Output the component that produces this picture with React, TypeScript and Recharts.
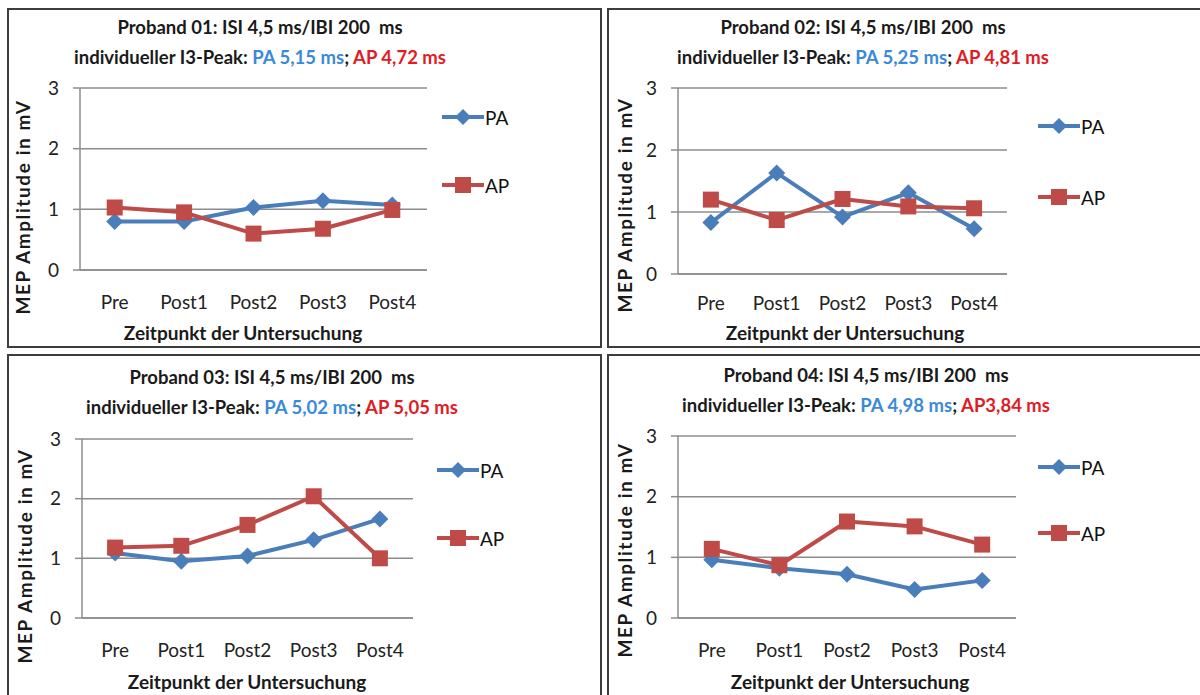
import React from 'react';
import { LineChart, Line, XAxis, YAxis, CartesianGrid, Legend } from 'recharts';

const categories = ['Pre', 'Post1', 'Post2', 'Post3', 'Post4'];
const yTicks = [0, 1, 2, 3];

const pa01 = [0.8, 0.8, 1.03, 1.14, 1.07];
const ap01 = [1.03, 0.95, 0.6, 0.68, 0.99];
const pa02 = [0.83, 1.63, 0.92, 1.31, 0.73];
const ap02 = [1.2, 0.87, 1.21, 1.09, 1.06];
const pa03 = [1.09, 0.95, 1.04, 1.31, 1.66];
const ap03 = [1.18, 1.21, 1.56, 2.04, 1.0];
const pa04 = [0.96, 0.82, 0.72, 0.47, 0.62];
const ap04 = [1.14, 0.87, 1.59, 1.51, 1.21];

const probanden = ['01', '02', '03', '04'];
const paPeaks = ['PA 5,15 ms', 'PA 5,25 ms', 'PA 5,02 ms', 'PA 4,98 ms'];
const apPeaks = ['AP 4,72 ms', 'AP 4,81 ms', 'AP 5,05 ms', 'AP3,84 ms'];
const paSeries = [pa01, pa02, pa03, pa04];
const apSeries = [ap01, ap02, ap03, ap04];

const FONT = 'Lato, "Open Sans", sans-serif';
const BLUE = '#4A7EBB';
const RED = '#BE4B48';
const GRID = '#8c8c8c';

// panel boxes and plot rectangles in page coordinates
const layouts = [
  { x: 7, y: 8, w: 595, h: 340, plot: [80, 427, 88, 270], titleX: 260, t1: 27, legX: 442, legY: [117, 185], tickGap: 26, xTitle: [243, 333], yTitle: [23, 207] },
  { x: 607, y: 8, w: 596, h: 340, plot: [678, 1007, 88, 274], titleX: 863, t1: 27, legX: 1038, legY: [126, 197], tickGap: 23, xTitle: [845, 333], yTitle: [625, 205] },
  { x: 7, y: 354, w: 595, h: 346, plot: [82, 413, 439, 618], titleX: 272, t1: 377, legX: 437, legY: [470, 538], tickGap: 26, xTitle: [247, 682], yTitle: [25, 556] },
  { x: 607, y: 354, w: 596, h: 346, plot: [678, 1016, 436, 618], titleX: 866, t1: 375, legX: 1038, legY: [467, 533], tickGap: 26, xTitle: [850, 682], yTitle: [625, 550] },
];

const YW = 40;
const XH = 40;

function diamondDot(props: any) {
  const { cx, cy, index } = props;
  if (cx == null || cy == null) return <g key={`d${index}`} />;
  const r = 8.5;
  return (
    <path
      key={`d${index}`}
      d={`M${cx},${cy - r}L${cx + r},${cy}L${cx},${cy + r}L${cx - r},${cy}Z`}
      fill={BLUE}
    />
  );
}

function squareDot(props: any) {
  const { cx, cy, index } = props;
  if (cx == null || cy == null) return <g key={`s${index}`} />;
  const s = 16;
  return <rect key={`s${index}`} x={cx - s / 2} y={cy - s / 2} width={s} height={s} fill={RED} />;
}

function LegendRow({ color, kind, label, top }: any) {
  return (
    <div style={{ position: 'absolute', left: 0, top, height: 20, display: 'flex', alignItems: 'center' }}>
      <svg width={42} height={20}>
        <line x1={0} y1={10} x2={42} y2={10} stroke={color} strokeWidth={4} />
        {kind === 'diamond' ? (
          <path d="M21,2L29,10L21,18L13,10Z" fill={color} />
        ) : (
          <rect x={13} y={2} width={16} height={16} fill={color} />
        )}
      </svg>
      <span style={{ fontFamily: FONT, fontSize: 19, color: '#111', marginLeft: 1 }}>{label}</span>
    </div>
  );
}

function Panel({ i }: { i: number }) {
  const L = layouts[i];
  const [pl, pr, pt, pb] = L.plot;
  const data = categories.map((c, k) => ({ name: c, PA: paSeries[i][k], AP: apSeries[i][k] }));
  const band = (pr - pl) / categories.length;
  const margin = {
    top: pt - L.y,
    bottom: L.y + L.h - pb - XH,
    left: pl - L.x - YW,
    right: L.x + L.w - pr,
  };
  const gap = L.legY[1] - L.legY[0];

  return (
    <>
      <div
        style={{
          position: 'absolute', left: L.x, top: L.y, width: L.w, height: L.h,
          border: '2px solid #3c3c3c', boxSizing: 'border-box',
        }}
      />
      <div style={{ position: 'absolute', left: L.x, top: L.y }}>
        <LineChart width={L.w} height={L.h} data={data} margin={margin}>
          <CartesianGrid horizontal vertical={false} stroke={GRID} strokeWidth={1.5} />
          <XAxis
            dataKey="name"
            height={XH}
            padding={{ left: band / 2, right: band / 2 }}
            axisLine={{ stroke: GRID, strokeWidth: 1.5 }}
            tickLine={false}
            tickSize={0}
            tickMargin={L.tickGap}
            tick={{ fontFamily: FONT, fontSize: 19, fill: '#222' }}
          />
          <YAxis
            width={YW}
            domain={[0, 3]}
            ticks={yTicks}
            axisLine={{ stroke: GRID, strokeWidth: 1.5 }}
            tickLine={{ stroke: GRID, strokeWidth: 1.5 }}
            tickSize={7}
            tickMargin={14}
            tick={{ fontFamily: FONT, fontSize: 19, fill: '#222' }}
          />
          <Legend
            layout="vertical"
            align="center"
            verticalAlign="middle"
            wrapperStyle={{ left: L.legX - L.x, top: L.legY[0] - L.y - 10, width: 90, height: gap + 20 }}
            content={() => (
              <div style={{ position: 'relative', width: 90, height: gap + 20 }}>
                <LegendRow color={BLUE} kind="diamond" label="PA" top={0} />
                <LegendRow color={RED} kind="square" label="AP" top={gap} />
              </div>
            )}
          />
          <Line
            dataKey="PA"
            stroke={BLUE}
            strokeWidth={4}
            strokeLinejoin="round"
            dot={diamondDot}
            activeDot={false}
            isAnimationActive={false}
          />
          <Line
            dataKey="AP"
            stroke={RED}
            strokeWidth={4}
            strokeLinejoin="round"
            dot={squareDot}
            activeDot={false}
            isAnimationActive={false}
          />
        </LineChart>
      </div>
      <div
        style={{
          position: 'absolute', left: L.titleX - 300, top: L.t1 - 15, width: 600,
          textAlign: 'center', fontFamily: FONT, fontWeight: 700, fontSize: 18.5,
          lineHeight: '30px', color: '#1a1a1a', whiteSpace: 'pre',
        }}
      >
        <div>{`Proband ${probanden[i]}: ISI 4,5 ms/IBI 200  ms`}</div>
        <div>
          individueller I3-Peak: <span style={{ color: '#3a8ad8' }}>{paPeaks[i]}</span>;{' '}
          <span style={{ color: '#e01c24' }}>{apPeaks[i]}</span>
        </div>
      </div>
      <div
        style={{
          position: 'absolute', left: L.xTitle[0] - 200, top: L.xTitle[1] - 12, width: 400,
          textAlign: 'center', fontFamily: FONT, fontWeight: 700, fontSize: 19,
          lineHeight: '24px', color: '#1a1a1a',
        }}
      >
        Zeitpunkt der Untersuchung
      </div>
      <div
        style={{
          position: 'absolute', left: L.yTitle[0] - 130, top: L.yTitle[1] - 12, width: 260,
          textAlign: 'center', fontFamily: FONT, fontWeight: 700, fontSize: 19,
          letterSpacing: 1.6, lineHeight: '24px', color: '#1a1a1a', transform: 'rotate(-90deg)',
        }}
      >
        MEP Amplitude in mV
      </div>
    </>
  );
}

export default function App() {
  return (
    <div
      style={{
        position: 'absolute', left: 0, top: 0, width: 1200, height: 695,
        background: '#fff', overflow: 'hidden',
      }}
    >
      {probanden.map((p, i) => (
        <Panel key={p} i={i} />
      ))}
    </div>
  );
}
